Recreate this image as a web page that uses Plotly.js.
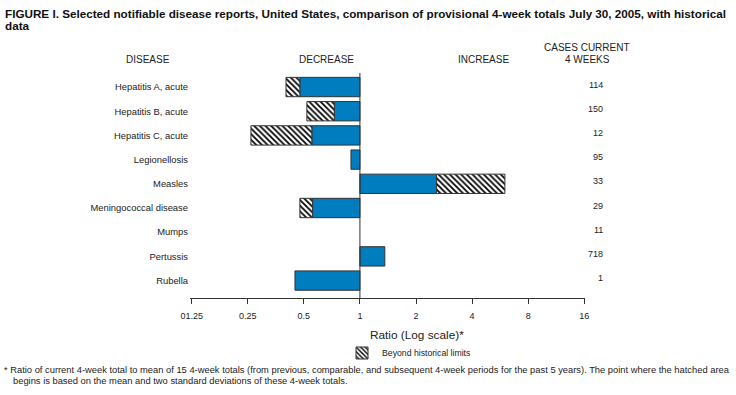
<!DOCTYPE html>
<html>
<head>
<meta charset="utf-8">
<script src="https://cdn.plot.ly/plotly-3.0.1.min.js"></script>
<style>html,body{margin:0;padding:0;background:#fff;}#chart{width:736px;height:395px;}</style>
</head>
<body>
<div id="chart"></div>
<script>
// ---- data ----
const diseases = ["Hepatitis A, acute", "Hepatitis B, acute", "Hepatitis C, acute", "Legionellosis", "Measles", "Meningococcal disease", "Mumps", "Pertussis", "Rubella"];
// ratio of current 4-week total to historical mean (end of solid bar)
const ratio = [0.476, 0.729, 0.552, 0.895, 2.58, 0.557, null, 1.36, 0.448];
// end of the hatched part (beyond historical limits), null if none
const beyondEnd = [0.401, 0.519, 0.260, null, 6.0, 0.476, null, null, null];
const casesCurrent = [114, 150, 12, 95, 33, 29, 11, 718, 1];
const tickValues = [0.125, 0.25, 0.5, 1, 2, 4, 8, 16];
const tickLabels = ["01.25", "0.25", "0.5", "1", "2", "4", "8", "16"];

// ---- layout geometry (pixels) ----
const W = 736, H = 395;
const L = 190, R = 585, T = 73, B = 298;
const px = x => (x - L) / (R - L);
const py = y => (B - y) / (B - T);

const FONT = "Liberation Sans, Arial, Helvetica, sans-serif";
const TXT = "#222";
const BLUE = "rgb(0,125,190)";
const EDGE = "#333";

const solid = {
  type: "bar", orientation: "h", y: diseases,
  base: ratio.map(r => r === null ? null : 1),
  x: ratio.map(r => r === null ? null : r - 1),
  width: 0.8,
  marker: {color: BLUE, line: {color: EDGE, width: 1}},
  showlegend: false, hoverinfo: "skip"
};
const hatched = {
  type: "bar", orientation: "h", y: diseases,
  base: ratio.map((r, i) => beyondEnd[i] === null ? null : r),
  x: ratio.map((r, i) => beyondEnd[i] === null ? null : beyondEnd[i] - r),
  width: 0.8,
  name: "Beyond historical limits",
  marker: {color: "white", line: {color: EDGE, width: 1},
           pattern: {shape: "\\", fgcolor: "#000", bgcolor: "white", size: 4, solidity: 0.45, fillmode: "replace"}},
  showlegend: true, hoverinfo: "skip"
};

const ann = [];
function addText(text, x, y, size, opts) {
  ann.push(Object.assign({text: text, xref: "paper", yref: "paper", x: px(x), y: py(y),
    showarrow: false, xanchor: "center", yanchor: "middle",
    font: {family: FONT, size: size, color: TXT}}, opts || {}));
}
addText("FIGURE I. Selected notifiable disease reports, United States, comparison of provisional 4-week totals July 30, 2005, with historical", 3, 13.2, 11.7,
  {xanchor: "left", font: {family: FONT, size: 11.7, weight: "bold", color: "#111"}});
addText("data", 3, 25.8, 11.7,
  {xanchor: "left", font: {family: FONT, size: 11.7, weight: "bold", color: "#111"}});
addText("DISEASE", 148, 59.5, 10);
addText("DECREASE", 326, 59.5, 10);
addText("INCREASE", 483, 59.5, 10);
addText("CASES CURRENT", 587, 47.5, 10);
addText("4 WEEKS", 587, 59.5, 10);
addText("Ratio (Log scale)*", 416.5, 335, 11.8);
addText("* Ratio of current 4-week total to mean of 15 4-week totals (from previous, comparable, and subsequent 4-week periods for the past 5 years). The point where the hatched area", 2, 370, 9.35, {xanchor: "left"});
addText("begins is based on the mean and two standard deviations of these 4-week totals.", 11, 380.5, 9.35, {xanchor: "left"});

// cases column (yshift: positive moves up)
casesCurrent.forEach((c, i) => {
  ann.push({text: String(c), xref: "paper", yref: "y", x: px(604.5), y: diseases[i],
    xanchor: "right", yanchor: "middle", yshift: 2.5, showarrow: false,
    font: {family: FONT, size: 9, color: TXT}});
});

const layout = {
  width: W, height: H,
  margin: {l: L, r: W - R, t: T, b: H - B, pad: 0},
  paper_bgcolor: "white", plot_bgcolor: "white",
  barmode: "overlay",
  xaxis: {
    type: "log",
    range: [Math.log10(0.125) - 0.009, Math.log10(16) + 0.004],
    tickmode: "array", tickvals: tickValues, ticktext: tickLabels,
    ticks: "outside", ticklen: 5, tickcolor: EDGE, tickwidth: 1,
    ticklabelstandoff: 4,
    showline: true, linecolor: EDGE, linewidth: 1,
    showgrid: false, zeroline: false,
    tickfont: {family: FONT, size: 9, color: TXT}
  },
  yaxis: {
    type: "category", categoryorder: "array", categoryarray: diseases,
    autorange: false, range: [8.72, -0.58],
    showline: false, showgrid: false, zeroline: false, ticks: "",
    ticklabelstandoff: 1,
    tickfont: {family: FONT, size: 9.4, color: TXT}
  },
  shapes: [{type: "line", xref: "x", yref: "paper", x0: 1, x1: 1, y0: 0, y1: 1,
            line: {color: EDGE, width: 1}, layer: "above"}],
  legend: {
    orientation: "h", x: px(342), y: py(353), xanchor: "left", yanchor: "middle",
    font: {family: FONT, size: 8.7, color: TXT}, bgcolor: "rgba(0,0,0,0)"
  },
  annotations: ann
};

Plotly.newPlot("chart", [solid, hatched], layout, {displayModeBar: false, staticPlot: true});
</script>
</body>
</html>
